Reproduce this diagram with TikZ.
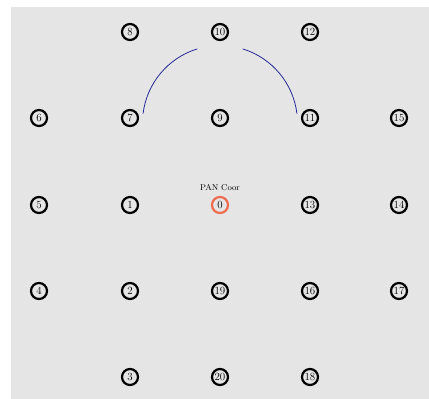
\documentclass[tikz,border=0pt]{standalone}
\usepackage{tikz}
\definecolor{bggray}{RGB}{229,229,229}
\definecolor{coordred}{RGB}{240,108,80}
\definecolor{rangeblue}{RGB}{40,40,150}

\begin{document}
\begin{tikzpicture}[x=1bp, y=1bp,
  mote/.style={circle, draw=black, line width=2.2bp, minimum size=16bp,
    inner sep=0pt, font=\fontsize{11}{11}\selectfont},
  pancoor/.style={mote, draw=coordred},
  radiorange/.style={draw=rangeblue, line width=0.8bp}
]
\useasboundingbox (0,0) rectangle (429,399);
\fill[bggray] (11,0) rectangle (429,392);

% row 1
\node[mote] (n8) at (130,367) {8};
\node[mote] (n10) at (220,367) {10};
\node[mote] (n12) at (310,367) {12};
% row 2
\node[mote] (n6) at (39,281) {6};
\node[mote] (n7) at (130,281) {7};
\node[mote] (n9) at (220,281) {9};
\node[mote] (n11) at (310,281) {11};
\node[mote] (n15) at (399,281) {15};
% row 3
\node[mote] (n5) at (39,194) {5};
\node[mote] (n1) at (130,194) {1};
\node[pancoor] (n0) at (220,194) {0};
\node[mote] (n13) at (310,194) {13};
\node[mote] (n14) at (399,194) {14};
% row 4
\node[mote] (n4) at (39,108) {4};
\node[mote] (n2) at (130,108) {2};
\node[mote] (n19) at (220,108) {19};
\node[mote] (n16) at (310,108) {16};
\node[mote] (n17) at (399,108) {17};
% row 5
\node[mote] (n3) at (130,22) {3};
\node[mote] (n20) at (220,22) {20};
\node[mote] (n18) at (310,22) {18};

\node[font=\fontsize{8.5}{9}\selectfont] (panlbl) at (220,211) {PAN Coor};

% range of node 9
\draw[radiorange] ([yshift=-5bp]n9.center) ++(173:77.5) arc[start angle=173, end angle=107, radius=77.5];
\draw[radiorange] ([yshift=-5bp]n9.center) ++(73:77.5) arc[start angle=73, end angle=7, radius=77.5];

\end{tikzpicture}
\end{document}
